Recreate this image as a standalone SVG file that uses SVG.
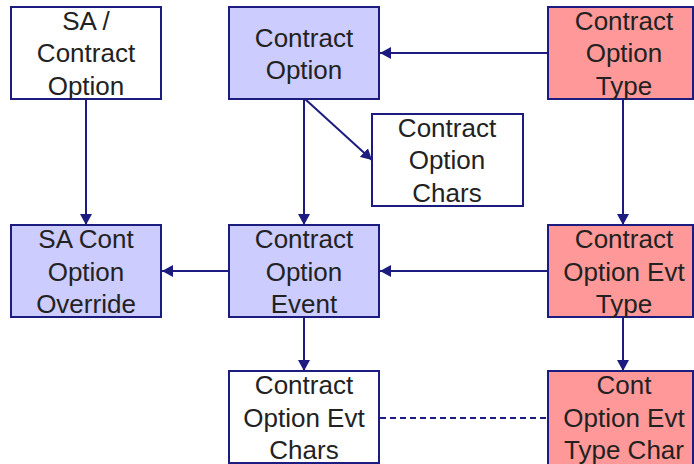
<svg xmlns="http://www.w3.org/2000/svg" width="694" height="464" viewBox="0 0 694 464">
<style>
  .box { stroke: #1c1c80; stroke-width: 2; }
  .white { fill: #ffffff; }
  .blue { fill: #ccccff; }
  .red { fill: #ff9999; }
  .lbl { font-family: "Liberation Sans", Arial, sans-serif; font-size: 26px; fill: #222222; text-anchor: middle; }
  .edge { stroke: #1c1c80; stroke-width: 2; fill: none; }
  .arrow { marker-end: url(#ah); }
  .dash { stroke-dasharray: 6 4; }
</style>
<defs>
  <marker id="ah" markerUnits="userSpaceOnUse" markerWidth="11" markerHeight="12" refX="11" refY="6" orient="auto">
    <path d="M0,0 L11,6 L0,12 z" fill="#1c1c80"/>
  </marker>
</defs>
<rect width="694" height="464" fill="#ffffff"/>

<g id="connectors">
  <line class="edge arrow" x1="86" y1="99" x2="86" y2="225"/>
  <line class="edge arrow" x1="304" y1="99" x2="304" y2="225"/>
  <line class="edge arrow" x1="305" y1="99" x2="372" y2="160"/>
  <line class="edge arrow" x1="548" y1="53" x2="380" y2="53"/>
  <line class="edge arrow" x1="623" y1="99" x2="623" y2="225"/>
  <line class="edge arrow" x1="229" y1="271" x2="162" y2="271"/>
  <line class="edge arrow" x1="548" y1="271" x2="380" y2="271"/>
  <line class="edge arrow" x1="623" y1="317" x2="623" y2="371"/>
  <line class="edge arrow" x1="304" y1="317" x2="304" y2="371"/>
  <line class="edge dash" x1="380" y1="418" x2="548" y2="418"/>
</g>

<g id="sa-contract-option">
  <rect class="box white" x="11" y="7" width="150" height="92"/>
  <text class="lbl" x="86" y="30">SA /</text>
  <text class="lbl" x="86" y="62">Contract</text>
  <text class="lbl" x="86" y="95">Option</text>
</g>

<g id="contract-option">
  <rect class="box blue" x="229" y="7" width="150" height="92"/>
  <text class="lbl" x="304" y="47">Contract</text>
  <text class="lbl" x="304" y="79">Option</text>
</g>

<g id="contract-option-type">
  <rect class="box red" x="548" y="7" width="145" height="92"/>
  <text class="lbl" x="624" y="30">Contract</text>
  <text class="lbl" x="624" y="62">Option</text>
  <text class="lbl" x="624" y="95">Type</text>
</g>

<g id="contract-option-chars">
  <rect class="box white" x="372" y="114" width="151" height="92"/>
  <text class="lbl" x="447" y="137">Contract</text>
  <text class="lbl" x="447" y="169">Option</text>
  <text class="lbl" x="447" y="202">Chars</text>
</g>

<g id="sa-cont-option-override">
  <rect class="box blue" x="11" y="225" width="150" height="92"/>
  <text class="lbl" x="86" y="248">SA Cont</text>
  <text class="lbl" x="86" y="281">Option</text>
  <text class="lbl" x="86" y="313">Override</text>
</g>

<g id="contract-option-event">
  <rect class="box blue" x="229" y="225" width="150" height="92"/>
  <text class="lbl" x="304" y="248">Contract</text>
  <text class="lbl" x="304" y="281">Option</text>
  <text class="lbl" x="304" y="313">Event</text>
</g>

<g id="contract-option-evt-type">
  <rect class="box red" x="548" y="225" width="145" height="92"/>
  <text class="lbl" x="624" y="248">Contract</text>
  <text class="lbl" x="624" y="281">Option Evt</text>
  <text class="lbl" x="624" y="313">Type</text>
</g>

<g id="contract-option-evt-chars">
  <rect class="box white" x="229" y="371" width="150" height="92"/>
  <text class="lbl" x="304" y="394">Contract</text>
  <text class="lbl" x="304" y="427">Option Evt</text>
  <text class="lbl" x="304" y="459">Chars</text>
</g>

<g id="cont-option-evt-type-char">
  <rect class="box red" x="548" y="371" width="145" height="95"/>
  <text class="lbl" x="624" y="394">Cont</text>
  <text class="lbl" x="624" y="427">Option Evt</text>
  <text class="lbl" x="624" y="459">Type Char</text>
</g>
</svg>
